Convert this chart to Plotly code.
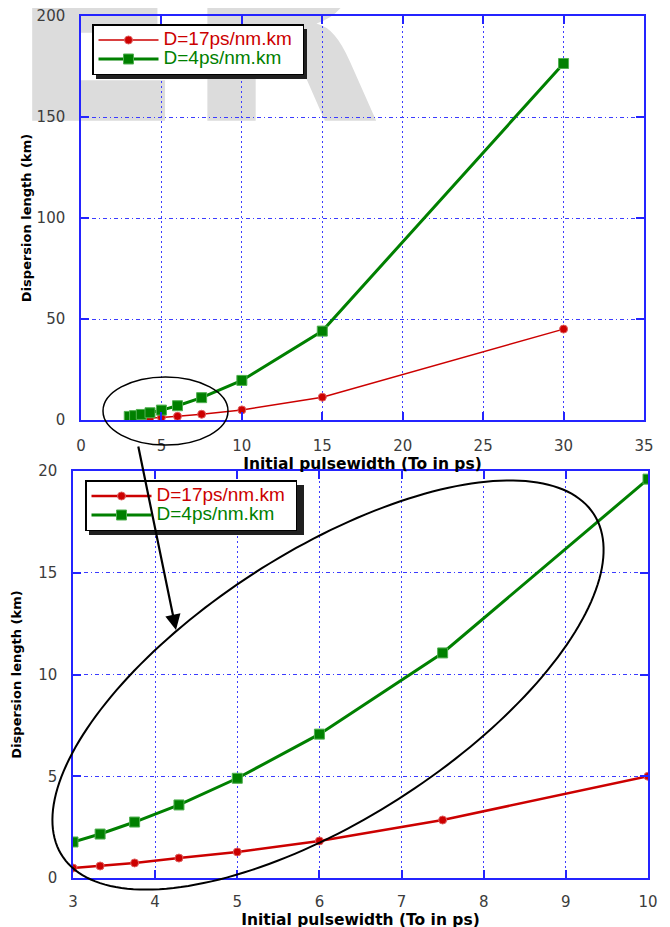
import numpy as np
import plotly.graph_objects as go

# ---------------- data ----------------
pulse_width = [3, 3.33, 3.75, 4.29, 5, 6, 7.5, 10, 15, 30]          # To in ps
ld_d17 = [0.49, 0.59, 0.74, 0.98, 1.28, 1.82, 2.85, 5.0, 11.3, 45.0]  # km
ld_d4 = [1.77, 2.16, 2.75, 3.59, 4.9, 7.07, 11.06, 19.6, 44.0, 176.5] # km
name_d17 = "D=17ps/nm.km"
name_d4 = "D=4ps/nm.km"
x_title = "Initial pulsewidth (To in ps)"
y_title = "Dispersion length (km)"
watermark = "ER"

# ---------------- layout helpers ----------------
# the page body has an 8px margin, so screen pixel p maps to figure pixel p-8
W, H = 670, 927
OFF = 8
def fx(px):
    return (px - OFF) / W
def fy(py):
    return 1 - (py - OFF) / H

RED = "#cc0000"
GREEN = "#008000"
BLUE = "#2424ff"
GRIDBLUE = "#3c3cff"
PAD = "&nbsp;"

def legend_name(text, color):
    return f'<span style="color:{color};font-size:19px">{text}{PAD}</span>'

fig = go.Figure()

# watermark drawn in a hidden full-page subplot (first, so the grid is drawn over it)
fig.add_trace(go.Scatter(
    x=[195], y=[192], mode="text", text=[watermark], textposition="top center",
    textfont=dict(family="Liberation Sans Narrow, DejaVu Sans Condensed, Liberation Sans",
                  size=285, color="#dcdcdc", weight="bold"),
    xaxis="x", yaxis="y", cliponaxis=False, hoverinfo="skip", showlegend=False))

for xa, ya, leg, rw, gw in (("x2", "y2", "legend", 1.5, 3), ("x3", "y3", "legend2", 2.5, 3)):
    fig.add_trace(go.Scatter(
        x=pulse_width, y=ld_d17, mode="lines+markers",
        name=legend_name(name_d17, RED),
        line=dict(color=RED, width=rw),
        marker=dict(symbol="circle", size=8, color=RED, line=dict(color="#e06060", width=1)),
        xaxis=xa, yaxis=ya, legend=leg))
    fig.add_trace(go.Scatter(
        x=pulse_width, y=ld_d4, mode="lines+markers",
        name=legend_name(name_d4, GREEN),
        line=dict(color=GREEN, width=gw),
        marker=dict(symbol="square", size=10, color=GREEN, line=dict(color="#50b050", width=1)),
        xaxis=xa, yaxis=ya, legend=leg))

tickfont = dict(family="DejaVu Sans", size=15, color="#3c3c3c")
common = dict(showline=True, linecolor=BLUE, linewidth=1.5, mirror="ticks",
              ticks="inside", ticklen=8, tickwidth=1.5, tickcolor=BLUE,
              showgrid=True, gridcolor=GRIDBLUE, gridwidth=1, zeroline=False,
              tickfont=tickfont, automargin=False, ticklabeloverflow="allow")
xtitle_font = dict(family="DejaVu Sans", size=15.5, color="black", weight="bold")
ytitle_font = dict(family="DejaVu Sans", size=13, color="black", weight="bold")
legend_common = dict(xanchor="left", yanchor="top", bgcolor="white",
                     bordercolor="black", borderwidth=1.5,
                     font=dict(family="Liberation Sans", size=12), itemwidth=60,
                     tracegroupgap=0)

fig.update_layout(
    width=W, height=H, margin=dict(l=0, r=0, t=0, b=0, pad=0, autoexpand=False),
    paper_bgcolor="white", plot_bgcolor="rgba(0,0,0,0)",
    xaxis=dict(domain=[0, 1], range=[OFF, OFF + W], visible=False),
    yaxis=dict(domain=[0, 1], range=[OFF + H, OFF], visible=False),
    xaxis2=dict(domain=[fx(81), fx(644)], range=[0, 35], dtick=5, anchor="y2",
                griddash="2px,3px", ticklabelstandoff=11,
                title=dict(text=x_title, font=xtitle_font, standoff=0), **common),
    yaxis2=dict(domain=[fy(420), fy(16)], range=[0, 200], dtick=50, anchor="x2",
                griddash="4px,3px,1px,3px", ticklabelstandoff=11,
                title=dict(text=y_title, font=ytitle_font, standoff=2), **common),
    xaxis3=dict(domain=[fx(73), fx(648)], range=[3, 10], dtick=1, anchor="y3",
                griddash="2px,3px", ticklabelstandoff=9,
                title=dict(text=x_title, font=xtitle_font, standoff=0), **common),
    yaxis3=dict(domain=[fy(878), fy(471)], range=[0, 20], dtick=5, anchor="x3",
                griddash="4px,3px,1px,3px", ticklabelstandoff=11,
                title=dict(text=y_title, font=ytitle_font, standoff=14), **common),
    legend=dict(x=fx(92), y=fy(24), **legend_common),
    legend2=dict(x=fx(85), y=fy(480), **legend_common),
    showlegend=True,
)

shapes = []
# legend shadows
for (x0, y0, x1, y1) in ((92, 25, 303, 75), (85, 481, 300, 531)):
    shapes.append(dict(type="rect", xref="paper", yref="paper",
                       x0=fx(x0 + 4), x1=fx(x1 + 4), y0=fy(y0 + 4), y1=fy(y1 + 4),
                       fillcolor="#202020", line=dict(width=0), layer="above"))
# small ellipse on the top chart
shapes.append(dict(type="circle", xref="paper", yref="paper",
                   x0=fx(103), x1=fx(228), y0=fy(377), y1=fy(445),
                   line=dict(color="black", width=1.5), layer="above"))
# tilted ellipse on the bottom chart
cx, cy, a, b, th = 328, 685, 316, 134, np.radians(32.7)
t = np.linspace(0, 2 * np.pi, 200)
ex = cx + a * np.cos(th) * np.cos(t) - b * np.sin(th) * np.sin(t)
ey = cy - (a * np.sin(th) * np.cos(t) + b * np.cos(th) * np.sin(t))
path = "M " + " L ".join(f"{fx(u):.5f},{fy(v):.5f}" for u, v in zip(ex, ey)) + " Z"
shapes.append(dict(type="path", xref="paper", yref="paper", path=path,
                   line=dict(color="black", width=2), layer="above"))
fig.update_layout(shapes=shapes)

fig.add_annotation(x=fx(176), y=fy(630), xref="paper", yref="paper",
                   ax=-38, ay=-185, axref="pixel", ayref="pixel", text="",
                   showarrow=True, arrowhead=2, arrowsize=1.4, arrowwidth=2.2,
                   arrowcolor="black")

fig.write_html("out.html")
